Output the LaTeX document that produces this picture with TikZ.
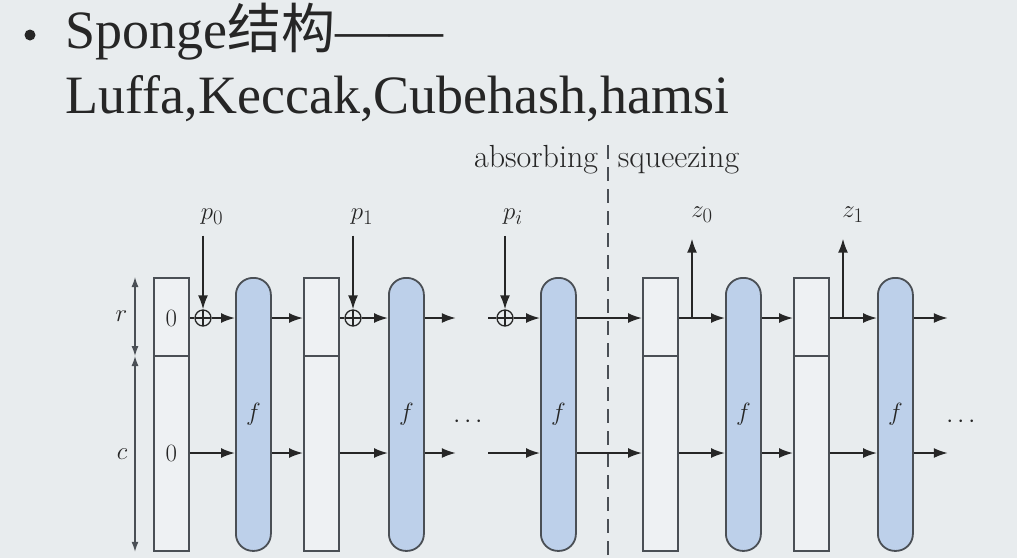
\documentclass[tikz,border=0pt]{standalone}
\usepackage{xcolor}
\usepackage{amsmath}
\usepackage{fontspec}
\newfontfamily\titlefont{Liberation Serif}
\newfontfamily\cjk{Noto Sans CJK SC}
\usetikzlibrary{arrows.meta}

\definecolor{slidebg}{HTML}{E8ECEE}
\definecolor{fblue}{HTML}{BDD0EA}
\definecolor{edgegray}{HTML}{4A4F55}
\definecolor{boxfill}{HTML}{EEF1F3}
\definecolor{inkdark}{HTML}{262626}

\begin{document}
\begin{tikzpicture}[x=1pt,y=-1pt,color=inkdark,line width=1.8pt,
    every node/.style={inner sep=2pt,font=\fontsize{32}{34}\selectfont},
    statebox/.style={draw=edgegray,fill=boxfill,minimum width=35pt,minimum height=273pt,inner sep=0pt,anchor=north west},
    fblock/.style={draw=edgegray,fill=fblue,rounded corners=17pt,minimum width=35pt,minimum height=273pt,inner sep=0pt,anchor=north west},
    xor/.style={circle,draw,inner sep=0pt,minimum size=16pt,line width=1.3pt,
        path picture={\draw[line width=1.3pt] (path picture bounding box.north) -- (path picture bounding box.south)
            (path picture bounding box.west) -- (path picture bounding box.east);}},
    arr/.style={-{Latex[length=14pt,width=10pt]}},
    dim/.style={draw=edgegray,line width=1.3pt,{Latex[length=10pt,width=7pt]}-{Latex[length=10pt,width=7pt]}}]
\fill[slidebg] (0,0) rectangle (1017,558);
\useasboundingbox (0,0) rectangle (1017,558);

% title
\node[circle,fill=inkdark,inner sep=0pt,minimum size=11pt] (bullet) at (30,35) {};
\node[anchor=base west,inner sep=0pt,font=\titlefont\fontsize{54}{60}\selectfont] (head) at (65,48) {Sponge{\cjk 结构}——};
\node[anchor=base west,inner sep=0pt,font=\titlefont\fontsize{54}{60}\selectfont] (algos) at (65,113) {Luffa,Keccak,Cubehash,hamsi};

\coordinate (rrow) at (0,318);
\coordinate (crow) at (0,453);
\coordinate (div) at (0,356);

% states and permutations
\node[statebox] (s0) at (153,277) {};
\node[fblock] (f1) at (235,277) {$f$};
\node[statebox] (s1) at (303,277) {};
\node[fblock] (f2) at (388,277) {$f$};
\node[fblock] (f3) at (540,277) {$f$};
\node[statebox] (s2) at (642,277) {};
\node[fblock] (f4) at (725,277) {$f$};
\node[statebox] (s3) at (793,277) {};
\node[fblock] (f5) at (877,277) {$f$};
\foreach \s in {s0,s1,s2,s3}
    \draw[edgegray] (\s.west |- div) -- (\s.east |- div);
\node (zr) at (s0 |- rrow) {$0$};
\node (zc) at (s0 |- crow) {$0$};

% r and c
\draw[dim] ([xshift=-18pt]s0.north west) -- ([xshift=-18pt]s0.west |- div) node[midway,left=5pt] {$r$};
\draw[dim] ([xshift=-18pt]s0.west |- div) -- ([xshift=-18pt]s0.south west) node[midway,left=5pt] {$c$};

% absorbing
\node[xor] (x0) at (203,318) {};
\node[xor] (x1) at (353,318) {};
\node[xor] (x2) at (505,318) {};
\node (p0) at (212,217) {$p_0$};
\node (p1) at (362,217) {$p_1$};
\node (pi) at (513,217) {$p_i$};
\draw[arr,shorten <=8pt] (p0.south -| x0) -- (x0.north);
\draw[arr,shorten <=8pt] (p1.south -| x1) -- (x1.north);
\draw[arr,shorten <=8pt] (pi.south -| x2) -- (x2.north);

\draw (s0.east |- rrow) -- (x0.west);
\draw[arr] (x0.east) -- (f1.west |- rrow);
\draw[arr] (s0.east |- crow) -- (f1.west |- crow);
\draw[arr] (f1.east |- rrow) -- (s1.west |- rrow);
\draw[arr] (f1.east |- crow) -- (s1.west |- crow);
\draw (s1.east |- rrow) -- (x1.west);
\draw[arr] (x1.east) -- (f2.west |- rrow);
\draw[arr] (s1.east |- crow) -- (f2.west |- crow);
\draw[arr] (f2.east |- rrow) -- ++(31,0);
\draw[arr] (f2.east |- crow) -- ++(31,0);
\node (dots1) at (470,422) {$\cdots$};

\coordinate (in2) at (488,318);
\coordinate (in3) at (488,453);
\draw (in2) -- (x2.west);
\draw[arr] (x2.east) -- (f3.west |- rrow);
\draw[arr] (in3) -- (f3.west |- crow);

% squeezing
\draw[edgegray,dash pattern=on 14pt off 8pt] (608,145) -- (608,558);
\node[anchor=base east] (absorb) at (601,167) {absorbing};
\node[anchor=base west] (squeeze) at (615,167) {squeezing};

\draw[arr] (f3.east |- rrow) -- (s2.west |- rrow);
\draw[arr] (f3.east |- crow) -- (s2.west |- crow);
\draw[arr] (s2.east |- rrow) -- (f4.west |- rrow);
\draw[arr] (s2.east |- crow) -- (f4.west |- crow);
\draw[arr] (f4.east |- rrow) -- (s3.west |- rrow);
\draw[arr] (f4.east |- crow) -- (s3.west |- crow);
\draw[arr] (s3.east |- rrow) -- (f5.west |- rrow);
\draw[arr] (s3.east |- crow) -- (f5.west |- crow);
\draw[arr] (f5.east |- rrow) -- ++(34,0);
\draw[arr] (f5.east |- crow) -- ++(34,0);
\node (dots2) at (963,422) {$\cdots$};

\coordinate (t0) at (692,318);
\coordinate (t1) at (843,318);
\node (z0) at (702,215) {$z_0$};
\node (z1) at (853,215) {$z_1$};
\draw[arr,shorten >=13pt] (t0) -- (t0 |- z0.south);
\draw[arr,shorten >=13pt] (t1) -- (t1 |- z1.south);
\end{tikzpicture}
\end{document}
